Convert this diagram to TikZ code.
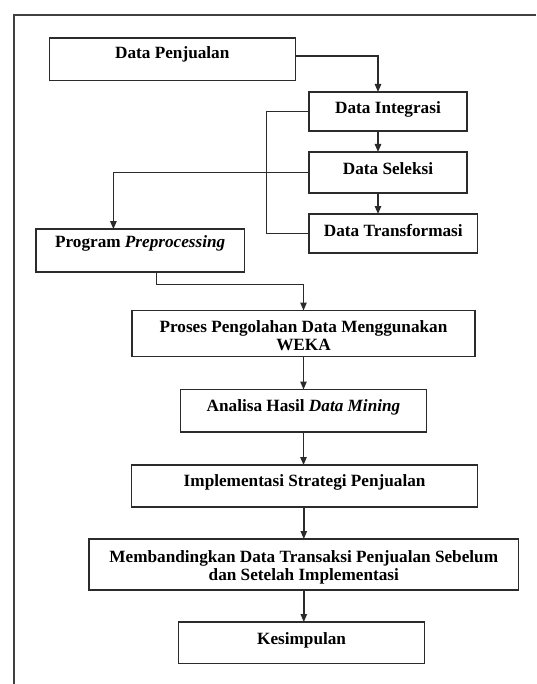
\documentclass[tikz,border=0pt]{standalone}
\usepackage{fontspec}
\setmainfont{Liberation Serif}
\usetikzlibrary{arrows.meta,calc,positioning}
\definecolor{boxLine}{HTML}{2B2B2B}

\begin{document}
\begin{tikzpicture}[
  x=0.5pt, y=-0.5pt,
  font=\fontsize{8.6pt}{8.85pt}\selectfont\bfseries,
  flowBox/.style={draw=boxLine, line width=0.8pt, inner sep=0pt, outer sep=0pt},
  flowText/.style={anchor=north, align=center, inner sep=0pt, outer sep=0pt},
  arrow/.style={-{Triangle[length=4pt, width=3.2pt]}, line width=0.7pt, draw=boxLine},
  link/.style={line width=0.7pt, draw=boxLine},
  frame/.style={line width=1pt, draw=black!75}
]
\useasboundingbox (0,0) rectangle (536,684);
\draw[frame] (536,15) -- (13.7,15) -- (13.7,684);

% boxes
\node[flowBox, minimum width=123pt, minimum height=21.3pt] (penjualan) at (172.3,59.3) {};
\node[flowBox, minimum width=79pt, minimum height=19.5pt] (integrasi) at (388,111.5) {};
\node[flowBox, minimum width=79pt, minimum height=20.5pt] (seleksi) at (388,172.5) {};
\node[flowBox, minimum width=84.3pt, minimum height=19.5pt] (transformasi) at (393.3,233.5) {};
\node[flowBox, minimum width=104.2pt, minimum height=21.3pt] (preprocessing) at (140.2,250.4) {};
\node[flowBox, minimum width=171.5pt, minimum height=23pt] (proses) at (303.5,333.5) {};
\node[flowBox, minimum width=123pt, minimum height=21.3pt] (analisa) at (303.5,410.8) {};
\node[flowBox, minimum width=173pt, minimum height=21pt] (implementasi) at (304.6,486) {};
\node[flowBox, minimum width=214.8pt, minimum height=25.5pt] (membandingkan) at (303.8,564.5) {};
\node[flowBox, minimum width=123pt, minimum height=20.8pt] (kesimpulan) at (301.6,642.8) {};

% texts
\node[flowText] (penjualanLbl) at ([yshift=-4.5pt]penjualan.north) {Data Penjualan};
\node[flowText] (integrasiLbl) at ([yshift=-4.8pt]integrasi.north) {Data Integrasi};
\node[flowText] (seleksiLbl) at ([yshift=-5.1pt]seleksi.north) {Data Seleksi};
\node[flowText] (transformasiLbl) at ([yshift=-5.4pt]transformasi.north) {Data Transformasi};
\node[flowText] (preprocessingLbl) at ([yshift=-3.4pt]preprocessing.north) {Program \textit{Preprocessing}};
\node[flowText] (prosesLbl) at ([yshift=-5pt]proses.north) {Proses Pengolahan Data Menggunakan\\WEKA};
\node[flowText] (analisaLbl) at ([yshift=-5.2pt]analisa.north) {Analisa Hasil \textit{Data Mining}};
\node[flowText] (implementasiLbl) at ([yshift=-4.6pt]implementasi.north) {Implementasi Strategi Penjualan};
\node[flowText] (membandingkanLbl) at ([yshift=-5.8pt]membandingkan.north)
  {Membandingkan Data Transaksi Penjualan Sebelum\\dan Setelah Implementasi};
\node[flowText] (kesimpulanLbl) at ([yshift=-5.3pt]kesimpulan.north) {Kesimpulan};

% connectors
\draw[arrow] ([yshift=1.6pt]penjualan.east) -| ([xshift=-5pt]integrasi.north);
\draw[arrow] ([xshift=-5pt]integrasi.south) -- ([xshift=-5pt]integrasi.south |- seleksi.north);
\draw[arrow] ([xshift=-5pt]seleksi.south) -- ([xshift=-5pt]seleksi.south |- transformasi.north);
\draw[link] (integrasi.west) -- ++(-42.3,0) |- (transformasi.west);
\draw[arrow] (seleksi.west) -| ([xshift=-13.4pt]preprocessing.north);
\draw[arrow] ([xshift=8pt]preprocessing.south) -- ++(0,12.6) -| (proses.north);
\draw[arrow] (proses.south) -- (analisa.north);
\draw[arrow] (analisa.south) -- (analisa.south |- implementasi.north);
\draw[arrow] (implementasi.south -| membandingkan.north) -- (membandingkan.north);
\draw[arrow] (membandingkan.south) -- (membandingkan.south |- kesimpulan.north);
\end{tikzpicture}
\end{document}
